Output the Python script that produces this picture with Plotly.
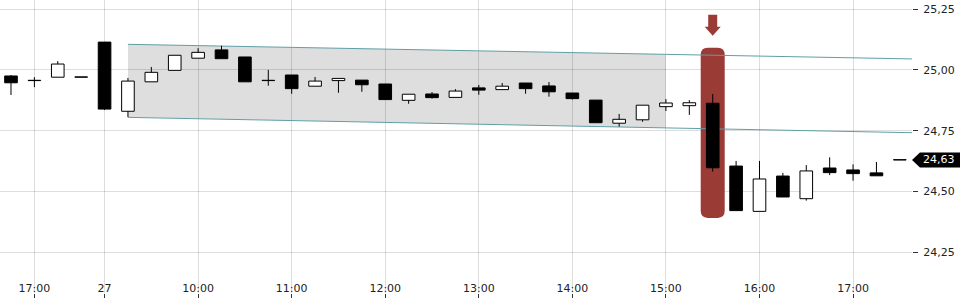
import plotly.graph_objects as go

# ---- data (15-minute candles) ----
times = ["26 16:45", "26 17:00", "26 17:15", "26 17:30",
         "27 09:00", "27 09:15", "27 09:30", "27 09:45",
         "27 10:00", "27 10:15", "27 10:30", "27 10:45",
         "27 11:00", "27 11:15", "27 11:30", "27 11:45",
         "27 12:00", "27 12:15", "27 12:30", "27 12:45",
         "27 13:00", "27 13:15", "27 13:30", "27 13:45",
         "27 14:00", "27 14:15", "27 14:30", "27 14:45",
         "27 15:00", "27 15:15", "27 15:30", "27 15:45",
         "27 16:00", "27 16:15", "27 16:30", "27 16:45",
         "27 17:00", "27 17:15", "27 17:30"]
opens = [24.975, 24.956, 24.970, 24.970,
         25.114, 24.830, 24.951, 24.998,
         25.048, 25.082, 25.053, 24.956,
         24.979, 24.933, 24.956, 24.958,
         24.942, 24.875, 24.901, 24.887,
         24.926, 24.919, 24.946, 24.934,
         24.905, 24.876, 24.781, 24.795,
         24.849, 24.853, 24.863, 24.605,
         24.419, 24.564, 24.471, 24.597,
         24.589, 24.577, 24.630]
highs = [24.979, 24.970, 25.036, 24.970,
         25.114, 24.967, 25.012, 25.060,
         25.089, 25.099, 25.053, 25.000,
         24.979, 24.971, 24.965, 24.958,
         24.942, 24.900, 24.909, 24.921,
         24.938, 24.946, 24.946, 24.950,
         24.905, 24.876, 24.819, 24.855,
         24.880, 24.876, 24.901, 24.626,
         24.626, 24.577, 24.609, 24.641,
         24.612, 24.622, 24.630]
lows = [24.897, 24.929, 24.970, 24.970,
        24.835, 24.806, 24.951, 24.998,
        25.048, 25.046, 24.951, 24.935,
        24.902, 24.933, 24.906, 24.910,
        24.878, 24.861, 24.882, 24.887,
        24.898, 24.919, 24.902, 24.890,
        24.878, 24.783, 24.767, 24.787,
        24.831, 24.815, 24.582, 24.422,
        24.419, 24.478, 24.463, 24.568,
        24.545, 24.565, 24.630]
closes = [24.947, 24.956, 25.024, 24.970,
          24.839, 24.954, 24.990, 25.060,
          25.072, 25.046, 24.951, 24.956,
          24.923, 24.954, 24.965, 24.939,
          24.878, 24.900, 24.886, 24.913,
          24.917, 24.933, 24.923, 24.910,
          24.882, 24.783, 24.797, 24.855,
          24.864, 24.865, 24.598, 24.422,
          24.552, 24.478, 24.585, 24.578,
          24.574, 24.565, 24.630]

tick_times = ["26 17:00", "27 09:00", "27 10:00", "27 11:00", "27 12:00",
              "27 13:00", "27 14:00", "27 15:00", "27 16:00", "27 17:00"]
tick_labels = ["17:00", "27", "10:00", "11:00", "12:00",
               "13:00", "14:00", "15:00", "16:00", "17:00"]

y_ticks = [24.25, 24.50, 24.75, 25.00, 25.25]

# trend channel (start index/end index, upper & lower prices)
channel_x = [5, 38.52]
channel_upper = [25.105, 25.045]
channel_lower = [24.805, 24.742]
channel_shade_end = "27 15:00"

highlight_time = "27 15:30"

# ---- styling ----
FONT = "DejaVu Sans"
RED = "#9b3b36"
TEAL = "#5f9fa6"
GRID = "rgba(0,0,0,0.135)"
X_RANGE = [-0.47, 38.52]
Y_RANGE = [24.0837, 25.287]

idx = list(range(len(times)))

fig = go.Figure()

# wicks (above and below body)
wx, wy = [], []
for i, o, h, l, c in zip(idx, opens, highs, lows, closes):
    top, bot = max(o, c), min(o, c)
    if h > top:
        wx += [i, i, None]
        wy += [h, top, None]
    if l < bot:
        wx += [i, i, None]
        wy += [bot, l, None]
fig.add_trace(go.Scatter(x=wx, y=wy, mode="lines",
                         line=dict(color="black", width=1),
                         hoverinfo="skip", showlegend=False))

# bodies
bases = [min(o, c) for o, c in zip(opens, closes)]
heights = [max(abs(c - o), 0.0012) for o, c in zip(opens, closes)]
colors = ["white" if c > o else "black" for o, c in zip(opens, closes)]
fig.add_trace(go.Bar(x=idx, y=heights, base=bases, width=0.54,
                     marker=dict(color=colors, line=dict(color="black", width=1)),
                     hoverinfo="skip", showlegend=False))

# channel shading
def chan(vals, x):
    x0, x1 = channel_x
    return vals[0] + (vals[1] - vals[0]) * (x - x0) / (x1 - x0)

xe = times.index(channel_shade_end)
xs = channel_x[0]
shade_path = (f"M{xs},{chan(channel_upper, xs)} L{xe},{chan(channel_upper, xe)} "
              f"L{xe},{chan(channel_lower, xe)} L{xs},{chan(channel_lower, xs)} Z")
shapes = [dict(type="path", path=shade_path, xref="x", yref="y",
               fillcolor="#dedede", line=dict(width=0), layer="below")]

# highlight rounded rect
hi = times.index(highlight_time)
pad = 0.19
top = highs[hi] + pad
bot = lows[hi] - pad
hw = 0.513
rx, ry = 0.3, 0.029
rect_path = (f"M{hi-hw+rx},{top} L{hi+hw-rx},{top} Q{hi+hw},{top} {hi+hw},{top-ry} "
             f"L{hi+hw},{bot+ry} Q{hi+hw},{bot} {hi+hw-rx},{bot} "
             f"L{hi-hw+rx},{bot} Q{hi-hw},{bot} {hi-hw},{bot+ry} "
             f"L{hi-hw},{top-ry} Q{hi-hw},{top} {hi-hw+rx},{top} Z")
shapes.append(dict(type="path", path=rect_path, xref="x", yref="y",
                   fillcolor=RED, line=dict(width=0), layer="between"))

# channel lines
for vals in (channel_upper, channel_lower):
    shapes.append(dict(type="line", xref="x", yref="y",
                       x0=channel_x[0], y0=vals[0], x1=channel_x[1], y1=vals[1],
                       line=dict(color=TEAL, width=1), layer="between"))

# arrow above highlight
shapes.append(dict(type="path", xref="x", yref="y",
                   xsizemode="pixel", ysizemode="pixel",
                   xanchor=hi, yanchor=top,
                   path="M-4.5,33 L4.5,33 L4.5,21 L8,21 L0,12 L-8,21 L-4.5,21 Z",
                   fillcolor=RED, line=dict(width=0), layer="above"))

# last price tag
last = closes[-1]
shapes.append(dict(type="path", xref="paper", yref="y",
                   xsizemode="pixel", ysizemode="pixel",
                   xanchor=1, yanchor=last,
                   path="M0,0 L8,7.5 L48,7.5 L48,-7.5 L8,-7.5 Z",
                   fillcolor="black", line=dict(width=0), layer="above"))

fig.add_annotation(xref="paper", yref="y", x=1, y=last, xanchor="left",
                   yanchor="middle", xshift=9, showarrow=False,
                   text=f"{last:.2f}".replace(".", ","),
                   font=dict(family=FONT, size=11, color="white"))

tick_vals = [times.index(t) for t in tick_times]

fig.update_layout(
    width=960, height=300,
    margin=dict(l=0, r=48, t=0, b=7),
    paper_bgcolor="white", plot_bgcolor="white",
    barmode="overlay",
    separators=", ",
    shapes=shapes,
    showlegend=False,
    font=dict(family=FONT, size=11, color="#222"),
    xaxis=dict(range=X_RANGE, tickmode="array", tickvals=tick_vals,
               ticktext=tick_labels, ticks="outside", ticklen=4,
               tickcolor="#333", tickwidth=1, ticklabelposition="inside",
               ticklabelstandoff=-4,
               showgrid=True, gridcolor=GRID, gridwidth=1, zeroline=False,
               showline=False, tickfont=dict(family=FONT, size=11, color="#222")),
    yaxis=dict(range=Y_RANGE, side="right", tickmode="array", tickvals=y_ticks,
               tickformat=".2f", ticks="outside", ticklen=5, tickcolor="#333",
               ticklabelstandoff=3,
               showgrid=True, gridcolor=GRID, gridwidth=1, zeroline=False,
               showline=False, tickfont=dict(family=FONT, size=11, color="#222")),
)

fig.write_html("out.html")
